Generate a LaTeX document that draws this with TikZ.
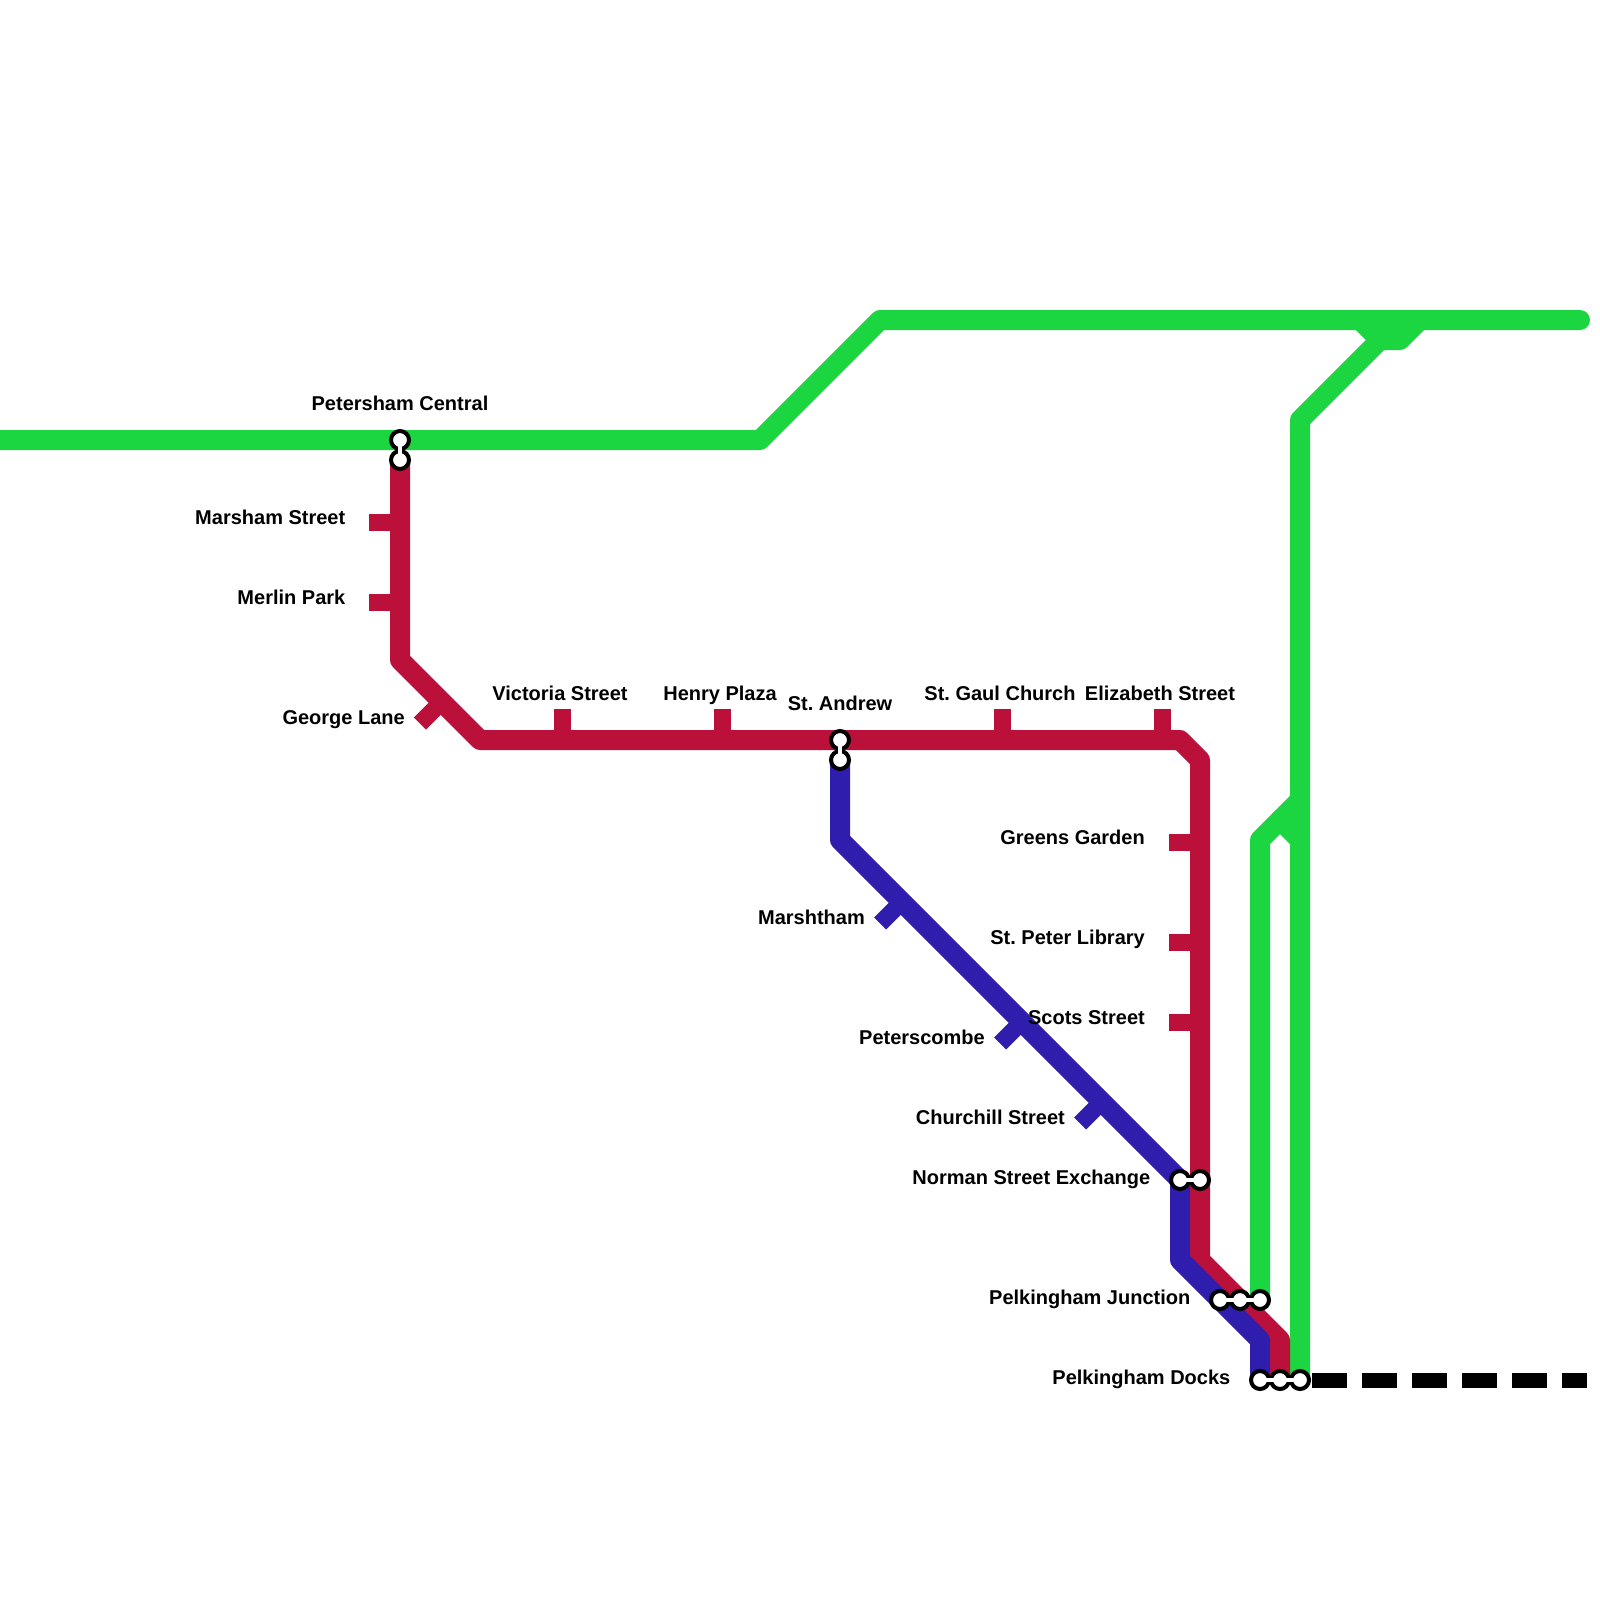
\documentclass[tikz,border=0pt]{standalone}
\usepackage{fontspec}
\setmainfont{Liberation Sans}
\definecolor{greenline}{HTML}{1BD641}
\definecolor{redline}{HTML}{BB103A}
\definecolor{blueline}{HTML}{2F1DAE}

\begin{document}
\begin{tikzpicture}[
    x=1pt,
    y=-1pt,
    route/.style={
        line width=20pt,
        line cap=round,
        line join=round
    },
    tick/.style={
        line width=17pt
    },
    linkouter/.style={
        black,
        line width=9.5pt
    },
    linkinner/.style={
        white,
        line width=4.5pt
    },
    stationdot/.style={
        circle,
        draw=black,
        fill=white,
        line width=4pt,
        inner sep=0pt,
        minimum size=18pt
    },
    lbl/.style={
        font=\fontsize{20}{24}\selectfont\bfseries\frenchspacing,
        inner sep=0pt
    },
    lblleft/.style={
        lbl,
        anchor=base east
    },
    lbltop/.style={
        lbl,
        anchor=base
    }
]
\useasboundingbox (0,0) rectangle (1600,1600);

% bends and line ends
\coordinate (gwest) at (0,440);
\coordinate (gbend1) at (760,440);
\coordinate (gbend2) at (880,320);
\coordinate (geast) at (1580,320);
\coordinate (gfork1) at (1360,320);
\coordinate (gfork2) at (1380,340);
\coordinate (gfork3) at (1400,340);
\coordinate (gfork4) at (1420,320);
\coordinate (gbend3) at (1300,420);
\coordinate (gbend4) at (1260,840);
\coordinate (gbend5) at (1300,800);
\coordinate (gbend6) at (1300,840);
\coordinate (gbend7) at (1280,820);

\coordinate (rbend1) at (400,660);
\coordinate (rbend2) at (480,740);
\coordinate (rbend3) at (1180,740);
\coordinate (rbend4) at (1200,760);
\coordinate (rbend5) at (1200,1260);
\coordinate (rbend6) at (1280,1340);

\coordinate (bbend1) at (840,840);
\coordinate (bbend2) at (1180,1260);
\coordinate (bbend3) at (1260,1340);

\coordinate (dashstart) at (1312,1380);
\coordinate (dashend) at (1587,1380);

% interchanges
\coordinate (petershamG) at (400,440);
\coordinate (petershamR) at (400,460);
\coordinate (andrewR) at (840,740);
\coordinate (andrewB) at (840,760);
\coordinate (normanB) at (1180,1180);
\coordinate (normanR) at (1200,1180);
\coordinate (junctionB) at (1220,1300);
\coordinate (junctionR) at (1240,1300);
\coordinate (junctionG) at (1260,1300);
\coordinate (docksB) at (1260,1380);
\coordinate (docksR) at (1280,1380);
\coordinate (docksG) at (1300,1380);

% green
\draw[route, greenline] (gwest) -- (gbend1) -- (gbend2) -- (geast);
\draw[route, greenline] (docksG) -- (gbend3) -- (gfork2) -- (gfork3) -- (gfork4);
\draw[route, greenline] (gfork1) -- (gfork2);
\draw[route, greenline] (junctionG) -- (gbend4) -- (gbend5);
\draw[route, greenline] (gbend6) -- (gbend7);

% red
\draw[route, redline] (petershamR) -- (rbend1) -- (rbend2) -- (rbend3) -- (rbend4) -- (rbend5) -- (rbend6) -- (docksR);
\draw[tick, redline] (400,522.5) -- (369,522.5);
\draw[tick, redline] (400,602.5) -- (369,602.5);
\draw[tick, redline] (441.75,701.75) -- (420,723.5);
\draw[tick, redline] (562.5,740) -- (562.5,709);
\draw[tick, redline] (722.5,740) -- (722.5,709);
\draw[tick, redline] (1002.5,740) -- (1002.5,709);
\draw[tick, redline] (1162.5,740) -- (1162.5,709);
\draw[tick, redline] (1200,842.5) -- (1169,842.5);
\draw[tick, redline] (1200,942.5) -- (1169,942.5);
\draw[tick, redline] (1200,1022.5) -- (1169,1022.5);

% blue
\draw[route, blueline] (andrewB) -- (bbend1) -- (normanB) -- (bbend2) -- (bbend3) -- (docksB);
\draw[tick, blueline] (901.75,901.75) -- (880,923.5);
\draw[tick, blueline] (1021.75,1021.75) -- (1000,1043.5);
\draw[tick, blueline] (1101.75,1101.75) -- (1080,1123.5);

% black dashes
\draw[black, line width=15pt, dash pattern=on 35pt off 15pt] (dashstart) -- (dashend);

% interchange links, outer
\draw[linkouter] (petershamG) -- (petershamR);
\draw[linkouter] (andrewR) -- (andrewB);
\draw[linkouter] (normanB) -- (normanR);
\draw[linkouter] (junctionB) -- (junctionG);
\draw[linkouter] (docksB) -- (docksG);

\node[stationdot] (dotpetershamG) at (petershamG) {};
\node[stationdot] (dotpetershamR) at (petershamR) {};
\node[stationdot] (dotandrewR) at (andrewR) {};
\node[stationdot] (dotandrewB) at (andrewB) {};
\node[stationdot] (dotnormanB) at (normanB) {};
\node[stationdot] (dotnormanR) at (normanR) {};
\node[stationdot] (dotjunctionB) at (junctionB) {};
\node[stationdot] (dotjunctionR) at (junctionR) {};
\node[stationdot] (dotjunctionG) at (junctionG) {};
\node[stationdot] (dotdocksB) at (docksB) {};
\node[stationdot] (dotdocksR) at (docksR) {};
\node[stationdot] (dotdocksG) at (docksG) {};

% interchange links, inner
\draw[linkinner] (petershamG) -- (petershamR);
\draw[linkinner] (andrewR) -- (andrewB);
\draw[linkinner] (normanB) -- (normanR);
\draw[linkinner] (junctionB) -- (junctionG);
\draw[linkinner] (docksB) -- (docksG);

% labels
\node[lbltop] (lpetersham) at (400,410) {Petersham Central};
\node[lblleft] (lmarsham) at (345.5,524.7) {Marsham Street};
\node[lblleft] (lmerlin) at (345.5,604.7) {Merlin Park};
\node[lblleft] (lgeorge) at (405,724.7) {George Lane};
\node[lbltop] (lvictoria) at (560,700) {Victoria Street};
\node[lbltop] (lhenry) at (720,700) {Henry Plaza};
\node[lbltop] (landrew) at (840,710) {St. Andrew};
\node[lbltop] (lgaul) at (1000,700) {St. Gaul Church};
\node[lbltop] (lelizabeth) at (1160,700) {Elizabeth Street};
\node[lblleft] (lgreens) at (1145,844.7) {Greens Garden};
\node[lblleft] (lpeter) at (1145,944.7) {St. Peter Library};
\node[lblleft] (lscots) at (1145,1024.7) {Scots Street};
\node[lblleft] (lmarshtham) at (865,924.7) {Marshtham};
\node[lblleft] (lpeterscombe) at (985,1044.7) {Peterscombe};
\node[lblleft] (lchurchill) at (1065,1124.7) {Churchill Street};
\node[lblleft] (lnorman) at (1150.5,1184.7) {Norman Street Exchange};
\node[lblleft] (ljunction) at (1190.5,1304.7) {Pelkingham Junction};
\node[lblleft] (ldocks) at (1230.5,1384.7) {Pelkingham Docks};

\end{tikzpicture}
\end{document}
